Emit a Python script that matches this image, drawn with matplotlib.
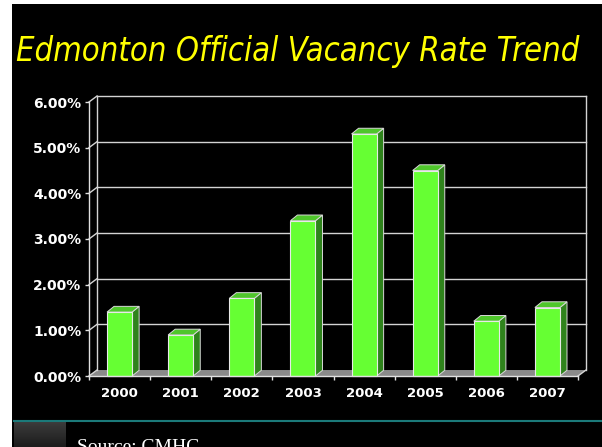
import matplotlib
matplotlib.use("Agg")
import matplotlib.pyplot as plt
from matplotlib.patches import Rectangle, Polygon
from matplotlib.lines import Line2D
import numpy as np

# ---- data ----
years = ["2000", "2001", "2002", "2003", "2004", "2005", "2006", "2007"]
vacancy = [1.4, 0.9, 1.7, 3.4, 5.3, 4.5, 1.2, 1.5]
y_ticks = [0, 1, 2, 3, 4, 5, 6]
title = "Edmonton Official Vacancy Rate Trend"
source = "Source: CMHC"

W, H = 602, 447
fig = plt.figure(figsize=(W / 100, H / 100), dpi=100, facecolor="white")


def fx(x):
    return x / W


def fy(y):
    return 1 - y / H


# black slide background
fig.patches.append(Rectangle((fx(12), 0), 1 - fx(12), fy(4), transform=fig.transFigure,
                             fc="black", ec="none", zorder=-5))

# title
fig.text(fx(16), fy(61), title, color="#ffff00", fontsize=23.5, style="italic",
         family="DejaVu Sans", fontstretch="condensed", va="baseline", ha="left", zorder=3)

# ---- chart axes (front plane) ----
ax = fig.add_axes([fx(89), fy(376), (578 - 89) / W, (376 - 102) / H])
ax.set_zorder(2)
ax.set_xlim(-0.5, len(years) - 0.5)
ax.set_ylim(0, 6)
ax.patch.set_alpha(0)

n = len(years)
wdx, wdy = 0.131, 0.131   # wall depth (data units)
bdx, bdy = 0.115, 0.125   # bar depth
bw = 0.41
grid_c = "#d4d4d4"

# floor
ax.add_patch(Polygon([(-0.5, 0), (n - 0.5, 0), (n - 0.5 + wdx, wdy), (-0.5 + wdx, wdy)],
                     closed=True, fc="#8a8a8a", ec="none", clip_on=False, zorder=1))
# back wall gridlines + side-wall diagonals
for v in y_ticks:
    if v > 0:
        ax.add_line(Line2D([-0.5 + wdx, n - 0.5 + wdx], [v + wdy, v + wdy], color=grid_c,
                           lw=1, clip_on=False, zorder=1))
    ax.add_line(Line2D([-0.5, -0.5 + wdx], [v, v + wdy], color=grid_c, lw=1,
                       clip_on=False, zorder=1))
ax.add_line(Line2D([-0.5 + wdx, -0.5 + wdx], [wdy, 6 + wdy], color=grid_c, lw=1,
                   clip_on=False, zorder=1))
ax.add_line(Line2D([n - 0.5 + wdx, n - 0.5 + wdx], [wdy, 6 + wdy], color=grid_c, lw=1,
                   clip_on=False, zorder=1))
ax.add_line(Line2D([n - 0.5, n - 0.5 + wdx], [0, wdy], color=grid_c, lw=1,
                   clip_on=False, zorder=1))

# bars
for i, v in enumerate(vacancy):
    l, r = i - bw / 2, i + bw / 2
    ax.add_patch(Polygon([(r, 0), (r + bdx, bdy), (r + bdx, v + bdy), (r, v)], closed=True,
                         fc="#2f831c", ec="#d8d8d8", lw=0.7, clip_on=False, zorder=3))
    ax.add_patch(Polygon([(l, v), (r, v), (r + bdx, v + bdy), (l + bdx, v + bdy)], closed=True,
                         fc="#4fc62b", ec="#d8d8d8", lw=0.7, clip_on=False, zorder=3))
    ax.add_patch(Rectangle((l, 0), bw, v, fc="#66ff33", ec="#e8e8e8", lw=0.8,
                           clip_on=False, zorder=4))

# axes spines / ticks
for s in ["top", "right"]:
    ax.spines[s].set_visible(False)
for s in ["left", "bottom"]:
    ax.spines[s].set_color("#e0e0e0")
    ax.spines[s].set_linewidth(1)
    ax.spines[s].set_zorder(5)
ax.set_yticks(y_ticks)
ax.set_yticklabels([f"{t:.2f}%" for t in y_ticks])
ax.set_xticks(range(n))
ax.set_xticklabels(years)
ax.set_xticks(np.arange(-0.5, n, 1.0), minor=True)
ax.tick_params(axis="y", colors="#e0e0e0", length=3, width=1, pad=2.5,
               labelcolor="white", labelsize=10)
ax.tick_params(axis="x", which="major", length=0, pad=8, labelcolor="white", labelsize=9.5)
ax.tick_params(axis="x", which="minor", length=3, width=1, colors="#e0e0e0")
for lab in ax.get_xticklabels() + ax.get_yticklabels():
    lab.set_fontweight("bold")

# ---- footer ----
fig.add_artist(Line2D([fx(14), 1], [fy(420.5), fy(420.5)], transform=fig.transFigure,
                      color="#1b7a7a", lw=1.5, zorder=3))
gax = fig.add_axes([fx(14), 0, (66 - 14) / W, (447 - 421.5) / H])
gax.set_zorder(2)
gax.imshow(np.linspace(0.24, 0.11, 50).reshape(-1, 1), cmap="gray", vmin=0, vmax=1,
           aspect="auto", extent=[0, 1, 0, 1])
gax.axis("off")
fig.text(fx(77), fy(452), source, color="white", fontsize=14, family="Liberation Serif",
         va="baseline", ha="left", zorder=3)

fig.savefig("out.png", dpi=100, facecolor=fig.get_facecolor())
